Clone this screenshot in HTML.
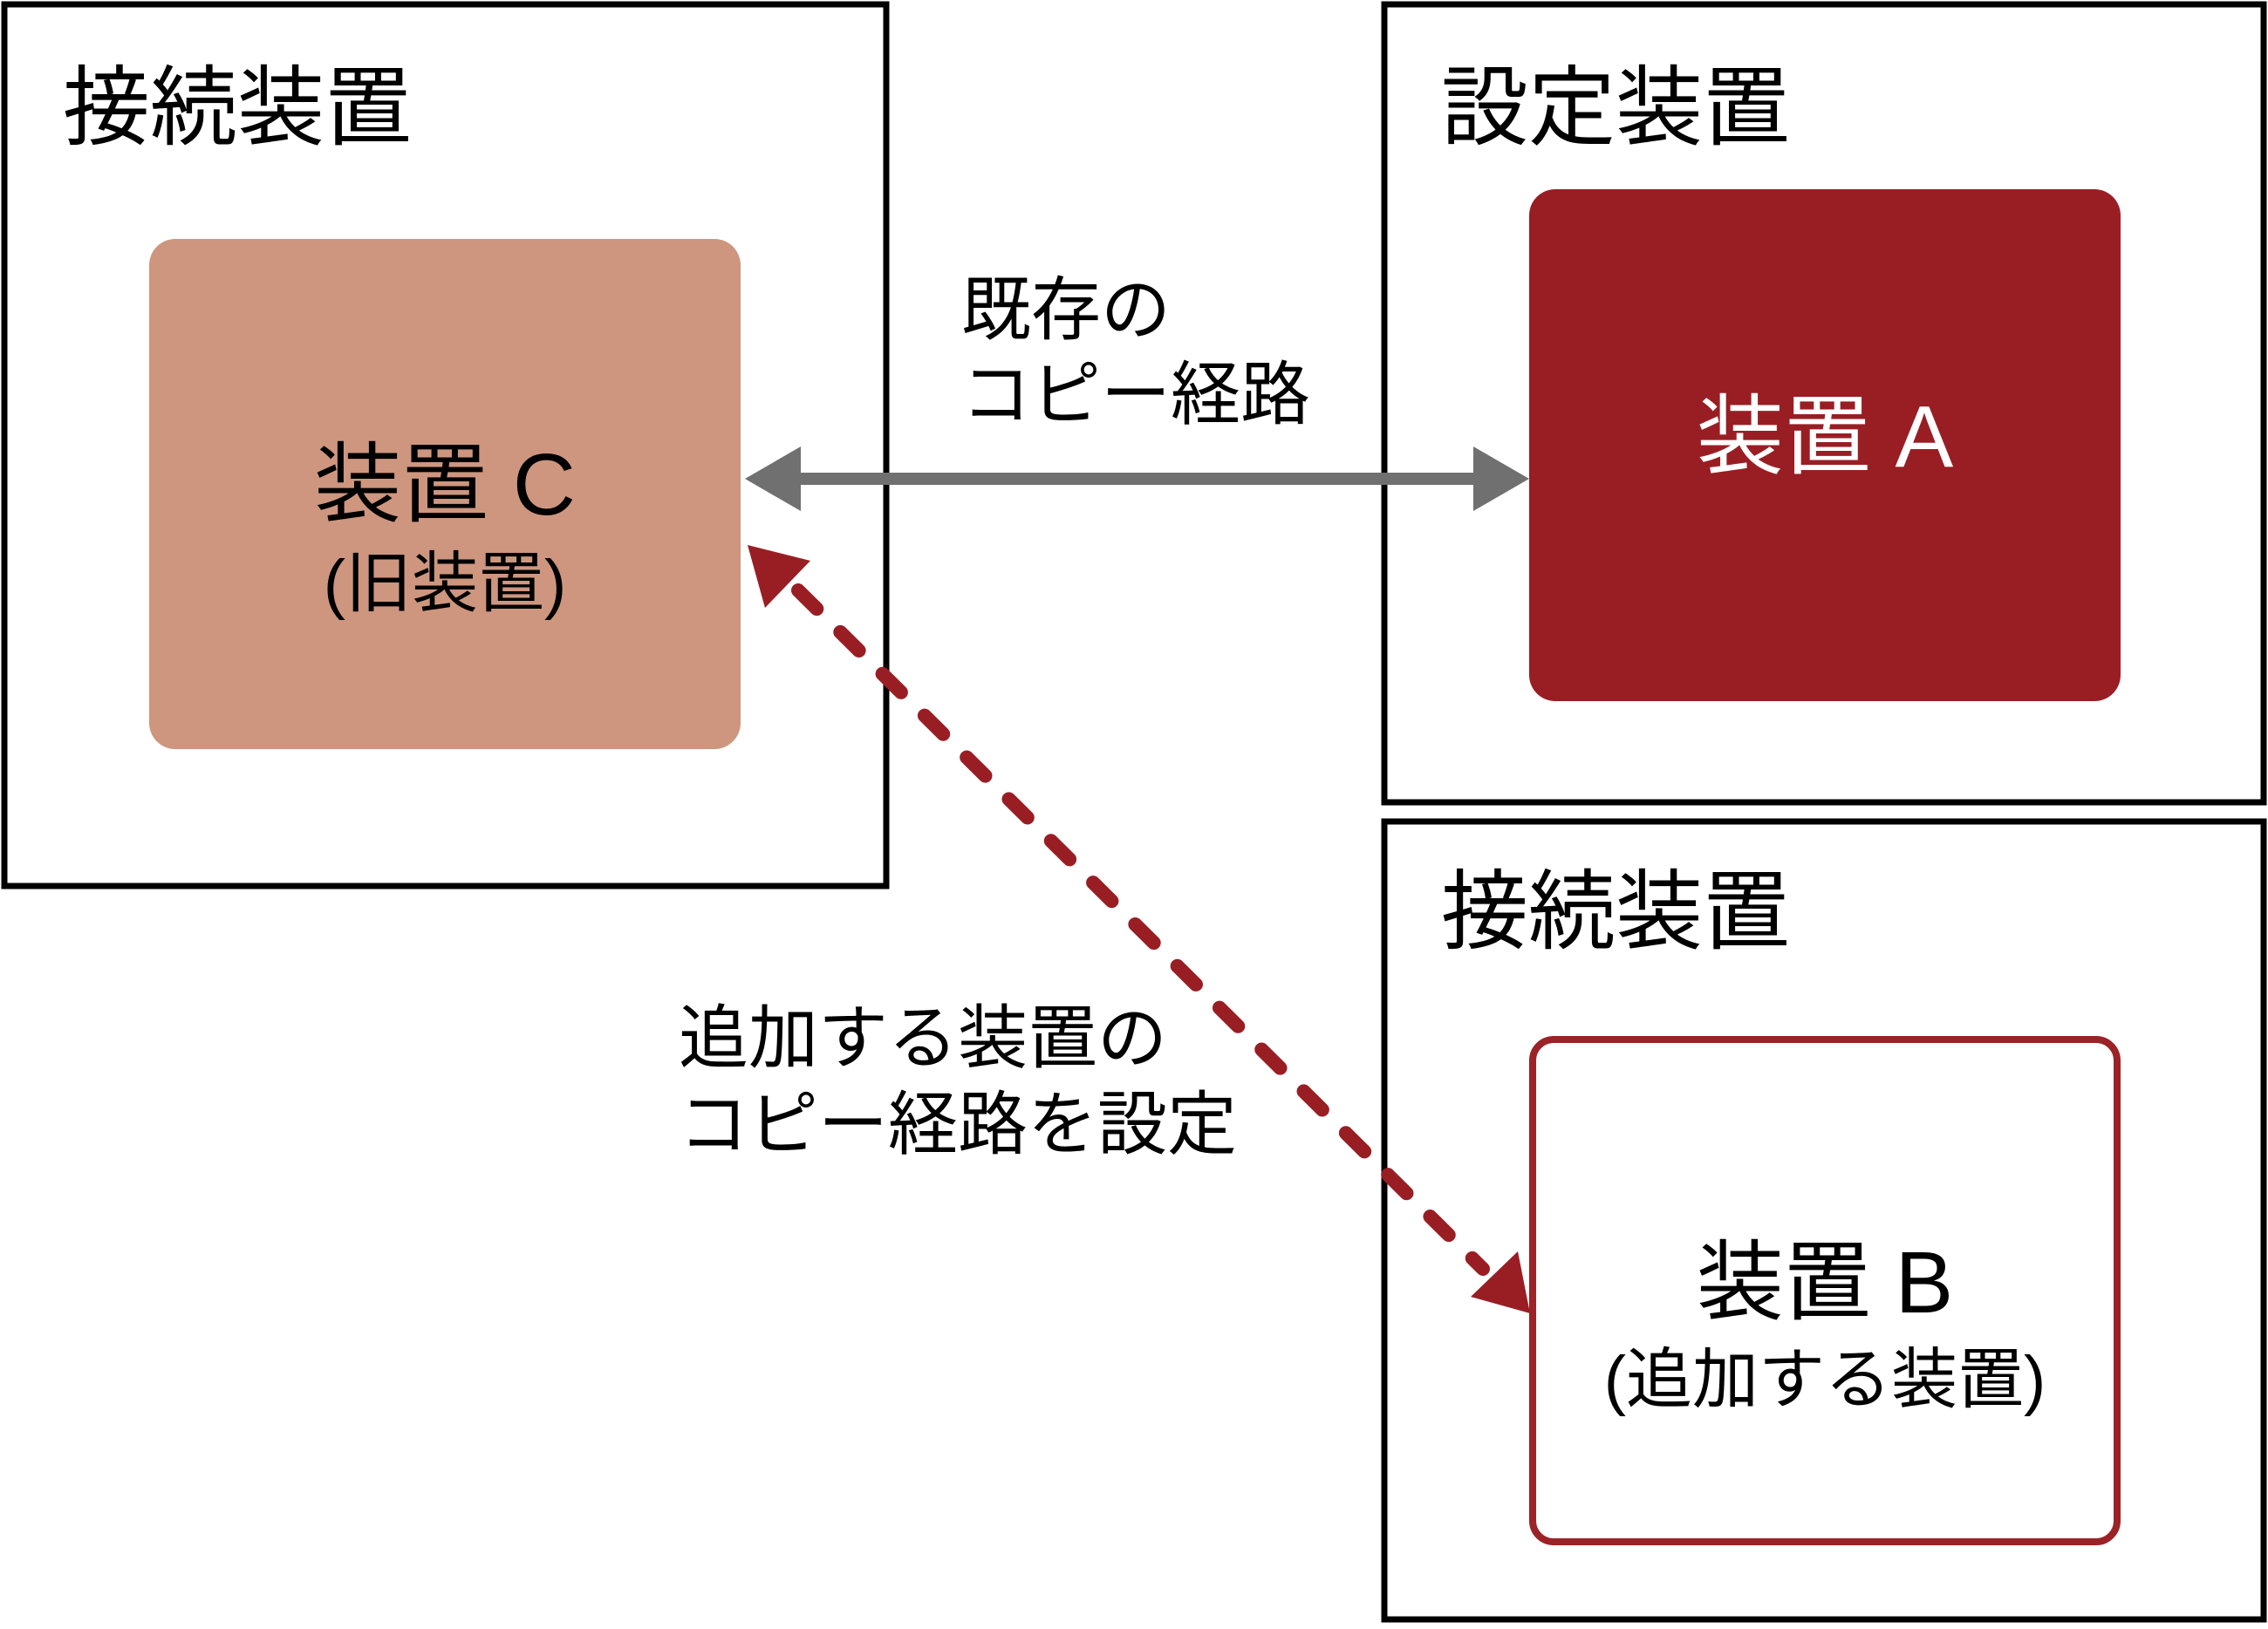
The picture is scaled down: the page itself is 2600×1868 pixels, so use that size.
<!DOCTYPE html>
<html><head><meta charset="utf-8"><style>
html,body{margin:0;padding:0;background:#fff}
svg text{font-family:"Liberation Sans","Noto Sans CJK JP",sans-serif}
</style></head><body>
<svg width="2600" height="1863" viewBox="0 0 2600 1863" xmlns="http://www.w3.org/2000/svg">
<rect x="5" y="5" width="1011" height="1011" fill="none" stroke="#000" stroke-width="7"/>
<rect x="1587" y="5" width="1008" height="915" fill="none" stroke="#000" stroke-width="7"/>
<rect x="1587" y="942" width="1008" height="915" fill="none" stroke="#000" stroke-width="7"/>
<rect x="171" y="274" width="678" height="585" rx="30" fill="#CE967F"/>
<rect x="1753" y="217" width="678" height="587" rx="30" fill="#991E24"/>
<rect x="1757" y="1192" width="670" height="576" rx="24" fill="#fff" stroke="#9B2226" stroke-width="8"/>
<text x="72" y="158" font-size="100">接続装置</text>
<text x="1652" y="158" font-size="100">設定装置</text>
<text x="1652" y="1080" font-size="100">接続装置</text>
<text x="510" y="590" font-size="100" text-anchor="middle">装置 C</text>
<text x="510" y="695" font-size="76" text-anchor="middle">(旧装置)</text>
<text x="2092" y="535" font-size="100" text-anchor="middle" fill="#fff">装置 A</text>
<text x="2092" y="1505" font-size="100" text-anchor="middle">装置 B</text>
<text x="2092" y="1608" font-size="76" text-anchor="middle">(追加する装置)</text>
<text x="1102" y="383" font-size="80">既存の</text>
<text x="1102" y="480" font-size="80">コピー経路</text>
<text x="778" y="1218" font-size="80">追加する装置の</text>
<text x="778" y="1317" font-size="80">コピー経路を設定</text>
<line x1="910" y1="549" x2="1700" y2="549" stroke="#707070" stroke-width="14"/>
<polygon points="854,549 918,512 918,586" fill="#707070"/>
<polygon points="1753,549 1689,512 1689,586" fill="#707070"/>
<line x1="915" y1="677" x2="1700" y2="1455" stroke="#991E24" stroke-width="16" stroke-linecap="round" stroke-dasharray="30 38"/>
<polygon points="857,625 929,643 877,697" fill="#991E24"/>
<polygon points="1754,1506 1686,1487 1740,1435" fill="#991E24"/>
</svg>
</body></html>
